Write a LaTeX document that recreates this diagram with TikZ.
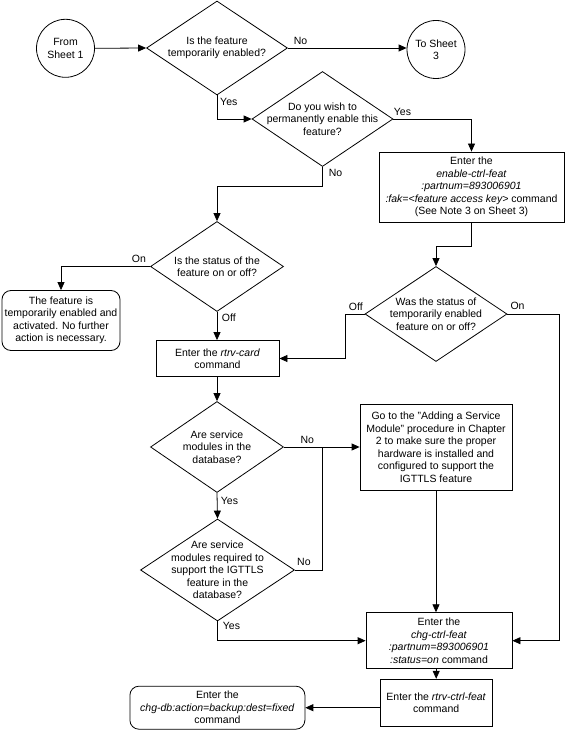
\documentclass[tikz,border=0pt]{standalone}
\usepackage{fontspec}
\setmainfont{Liberation Sans}
\usetikzlibrary{arrows.meta,shapes.geometric}
\tikzset{
  base/.style={draw, line width=0.8pt, inner sep=0pt, align=center},
  dia/.style={base, diamond},
  box/.style={base, rectangle},
  rbox/.style={base, rectangle, rounded corners=9pt},
  term/.style={base, circle, minimum size=58pt},
  txt/.style={align=center, inner sep=0pt},
  lbl/.style={anchor=west, inner sep=0pt},
  con/.style={line width=0.8pt},
  arr/.style={con, -{Triangle[length=8pt,width=7pt]}}
}
\begin{document}
\begin{tikzpicture}[x=1pt, y=-1pt, font=\fontsize{10.5}{12.5}\selectfont]
\useasboundingbox (0,0) rectangle (565,730);

% terminators
\node[term] (s1) at (65.5,48.3) {From\\Sheet 1};
\node[term] (s3) at (436,49.5) {To Sheet\\3};

% decisions
\node[dia, minimum width=141pt, minimum height=94pt] (d1) at (217,48) {};
\node[txt] (d1t) at (d1) {Is the feature\\temporarily enabled?};
\node[dia, minimum width=141pt, minimum height=95pt] (d2) at (322.5,119) {};
\node[txt] (d2t) at (d2) {Do you wish to\\permanently enable this\\feature?};
\node[dia, minimum width=133pt, minimum height=90pt] (d3) at (217,266.5) {};
\node[txt] (d3t) at (d3) {Is the status of the\\feature on or off?};
\node[dia, minimum width=142pt, minimum height=95pt] (d4) at (436,314) {};
\node[txt] (d4t) at (d4) {Was the status of\\temporarily enabled\\feature on or off?};
\node[dia, minimum width=133pt, minimum height=91pt] (d5) at (217,447) {};
\node[txt] (d5t) at (d5) {Are service\\modules in the\\database?};
\node[dia, minimum width=154pt, minimum height=102pt] (d6) at (217.5,570) {};
\node[txt] (d6t) at (d6) {Are service\\modules required to\\support the IGTTLS\\feature in the\\database?};

% processes
\node[box, minimum width=185pt, minimum height=70pt] (enable) at (471.5,187)
  {Enter the\\\textit{enable-ctrl-feat}\\\textit{:partnum=893006901}\\\textit{:fak=<feature access key>} command\\(See Note 3 on Sheet 3)};
\node[rbox, minimum width=118pt, minimum height=60pt] (feat) at (61,320.5)
  {The feature is\\temporarily enabled and\\activated. No further\\action is necessary.};
\node[box, minimum width=123pt, minimum height=36pt] (card) at (217.5,358.5)
  {Enter the \textit{rtrv-card}\\command};
\node[box, minimum width=152pt, minimum height=86pt] (goto) at (436,447)
  {Go to the "Adding a Service\\Module" procedure in Chapter\\2 to make sure the proper\\hardware is installed and\\configured to support the\\IGTTLS feature};
\node[box, minimum width=146pt, minimum height=56pt] (chg) at (439,640.7)
  {Enter the\\\textit{chg-ctrl-feat}\\\textit{:partnum=893006901}\\\textit{:status=on} command};
\node[box, minimum width=112pt, minimum height=47pt] (rtrv) at (436.2,702.7)
  {Enter the \textit{rtrv-ctrl-feat}\\command};
\node[rbox, minimum width=175pt, minimum height=43pt] (db) at (217.4,707.7)
  {Enter the\\\textit{chg-db:action=backup:dest=fixed}\\command};

% connectors
\draw[arr] (s1.east) -- (d1.west);
\draw[arr] (d1.east) -- (d1.east -| s3.west);
\node[lbl] (l1) at (293.7,40.7) {No};
\draw[arr] (d1.south) |- (d2.west);
\node[lbl] (l2) at (220,102) {Yes};
\draw[arr] (d2.east) -| (enable.north);
\node[lbl] (l3) at (393.7,111.7) {Yes};
\draw[arr] (d2.south) -- ++(0,19) -| (d3.north);
\node[lbl] (l4) at (328.7,173.3) {No};
\draw[arr] (d3.west) -| (feat.north);
\node[lbl] (l5) at (131.7,258.7) {On};
\draw[arr] (d3.south) -- (d3.south |- card.north);
\node[lbl] (l6) at (221.7,318) {Off};
\draw[arr] (enable.south) -- ++(0,24.3) -| (d4.north);
\draw[arr] (d4.west) -- ++(-19.4,0) |- (card.east);
\node[lbl] (l7) at (348.7,306.3) {Off};
\draw[arr] (d4.east) -- ++(52.3,0) |- (chg.east);
\node[lbl] (l8) at (510.3,306.3) {On};
\draw[arr] (card.south -| d5.north) -- (d5.north);
\draw[arr] (d5.east) -- (goto.west);
\node[lbl] (l9) at (300.3,440.3) {No};
\coordinate (j) at (322.7,447);
\draw[con] (d6.east) -| (j);
\node[lbl] (l10) at (297,562) {No};
\draw[arr] (d5.south) -- (d6.north);
\node[lbl] (l11) at (220.7,501) {Yes};
\draw[arr] (d6.south) |- (chg.west);
\node[lbl] (l12) at (222.7,626) {Yes};
\draw[arr] (goto.south) -- (goto.south |- chg.north);
\draw[arr] (rtrv.north |- chg.south) -- (rtrv.north);
\draw[arr] (rtrv.west |- db.east) -- (db.east);
\end{tikzpicture}
\end{document}
